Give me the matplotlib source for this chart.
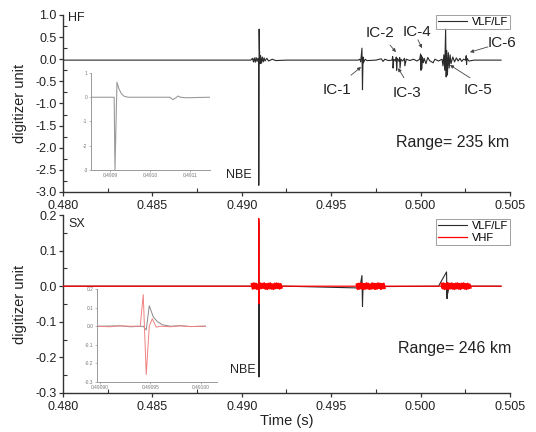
import numpy as np
import matplotlib
matplotlib.use("Agg")
import matplotlib.pyplot as plt
from matplotlib.ticker import MultipleLocator, FormatStrFormatter, FixedLocator

plt.rcParams['font.family'] = ['Liberation Sans', 'DejaVu Sans']

# ---------------- data ----------------
# HF station, VLF/LF sensor (time in s, amplitude in digitizer units)
hf_t = [0.4800, 0.4905, 0.4906, 0.49065, 0.4907, 0.49075, 0.4908, 0.49085, 0.4909, 0.49094,
        0.49095, 0.49097, 0.49099, 0.49102, 0.49105, 0.4911, 0.49115, 0.4912, 0.49125, 0.4913,
        0.4914, 0.4915, 0.4917, 0.4919, 0.4925,
        0.4965, 0.4966, 0.49665, 0.49672, 0.49675, 0.49678, 0.4968, 0.4969, 0.4970, 0.4975,
        0.4978, 0.4979, 0.4980, 0.4982,
        0.4984, 0.49844, 0.49846, 0.4985, 0.4986, 0.49864, 0.49866, 0.4987, 0.4988, 0.49883,
        0.49885, 0.4989, 0.4990, 0.4991, 0.49912, 0.4992, 0.4994, 0.4996, 0.4998,
        0.49995, 0.5000, 0.50002, 0.50004, 0.50006, 0.5001, 0.50015, 0.5002, 0.5003, 0.5004,
        0.5005, 0.5007, 0.5008, 0.5010,
        0.5012, 0.50125, 0.5013, 0.50135, 0.5014, 0.50143, 0.50146, 0.5015, 0.50155, 0.5016,
        0.50165, 0.5017, 0.5018, 0.5019, 0.5020, 0.5021, 0.5022, 0.5023, 0.5024,
        0.50252, 0.50255, 0.50257, 0.5026, 0.5027, 0.5030, 0.5045]
hf_v = [-0.02, -0.02, 0.02, -0.06, 0.03, -0.07, 0.04, -0.05, 0.02, -0.02,
        -2.85, 0.68, 0.20, -0.10, 0.08, -0.09, 0.05, -0.06, 0.03, -0.04,
        0.02, -0.04, 0.00, -0.03, -0.02,
        -0.02, 0.00, -0.06, 0.25, -0.69, 0.05, -0.08, 0.00, -0.03, -0.02,
        0.01, -0.05, 0.00, -0.03,
        -0.02, 0.06, -0.20, 0.00, -0.04, 0.05, -0.25, 0.02, -0.05, 0.04,
        -0.20, 0.00, -0.04, 0.02, -0.15, 0.00, -0.03, 0.00, -0.04,
        0.00, 0.12, -0.25, 0.08, -0.22, 0.05, -0.08, 0.02, -0.10, 0.04,
        -0.03, -0.08, 0.00, -0.04,
        0.00, -0.15, 0.10, -0.25, 0.70, -0.40, 0.20, -0.36, 0.15, -0.20,
        0.10, -0.10, 0.05, -0.06, 0.03, -0.04, 0.02, -0.05, 0.00,
        -0.02, 0.08, -0.12, 0.02, -0.04, -0.02, -0.02]

# HF inset: NBE waveform, expanded
hfi_t = [0.49085, 0.490910, 0.490912, 0.490917, 0.490922, 0.490928, 0.490935, 0.490945,
         0.49105, 0.491057, 0.491064, 0.49107, 0.491076, 0.49109, 0.49115]
hfi_v = [0.0, 0.0, -3.0, 0.62, 0.35, 0.15, 0.04, 0.0,
         0.0, -0.10, -0.03, 0.05, 0.0, -0.02, 0.0]

# SX station, VLF/LF sensor
sx_t = [0.4800, 0.4906, 0.49094, 0.49095, 0.49096, 0.49098, 0.4910, 0.4925, 0.4966,
        0.49672, 0.49675, 0.49678, 0.4969, 0.4980, 0.5010, 0.50145, 0.50148, 0.5015,
        0.50152, 0.5016, 0.5045]
sx_v = [0.0, 0.0, -0.002, 0.18, -0.255, 0.01, 0.0, 0.0, -0.005,
        0.03, -0.057, 0.0, -0.002, -0.001, 0.0, 0.04, -0.035, 0.01,
        -0.02, 0.0, 0.0]

# SX station, VHF sensor: quiet baseline, NBE pulse, and three VHF bursts
vhf_t = [0.4800, 0.49094, 0.49095, 0.49096, 0.49098, 0.5045]
vhf_v = [0.0, 0.0, 0.19, -0.05, 0.0, 0.0]
burst_spans = [(0.49056, 0.49223), (0.49643, 0.49799), (0.50117, 0.50279)]
burst_amps = [
    [0.006, -0.007, 0.008, -0.006, 0.007, -0.008, 0.005, -0.007, 0.008, -0.006,
     0.007, -0.005, 0.008, -0.007, 0.006, -0.008, 0.007, -0.006, 0.008, -0.007,
     0.005, -0.008, 0.007, -0.006, 0.008, -0.005, 0.007, -0.007, 0.006, -0.004],
    [0.005, -0.008, 0.007, -0.007, 0.008, -0.006, 0.007, -0.008, 0.006, -0.007,
     0.008, -0.006, 0.007, -0.008, 0.005, -0.007, 0.008, -0.006, 0.007, -0.008,
     0.006, -0.007, 0.008, -0.005, 0.007, -0.008, 0.006, -0.006, 0.007, -0.005],
    [0.007, -0.006, 0.008, -0.008, 0.006, -0.007, 0.009, -0.008, 0.007, -0.006,
     0.008, -0.007, 0.006, -0.008, 0.007, -0.006, 0.008, -0.007, 0.006, -0.008,
     0.007, -0.005, 0.008, -0.007, 0.006, -0.008, 0.007, -0.006, 0.005, -0.004],
]

# SX inset: NBE waveform, expanded
sxi_t = [0.490897, 0.49092, 0.49093, 0.490943, 0.490946, 0.490949, 0.490953, 0.490957,
         0.490962, 0.49097, 0.49098, 0.49099, 0.491005]
sxi_v = [0.0, 0.002, -0.003, 0.0, -0.02, 0.11, 0.05, 0.025,
         0.008, 0.0, 0.003, -0.002, 0.0]
sxi_vhf_t = [0.490897, 0.49091, 0.49092, 0.49093, 0.49094, 0.490943, 0.490946, 0.490949,
             0.490952, 0.490956, 0.49096, 0.49097, 0.49098, 0.49099, 0.491, 0.491005]
sxi_vhf_v = [0.0, -0.003, 0.002, 0.0, 0.0, 0.17, -0.26, 0.0,
             0.04, -0.005, 0.0, -0.003, 0.002, -0.002, 0.0, 0.0]

# IC pulse labels: (text, text pos, arrow tail, arrow head)
ic_labels = [
    ("IC-1", (0.49532, -0.69), (0.49611, -0.36), (0.49667, -0.175)),
    ("IC-2", (0.49773, 0.59), (0.49829, 0.32), (0.49862, 0.16)),
    ("IC-3", (0.49924, -0.76), (0.49907, -0.42), (0.49874, -0.20)),
    ("IC-4", (0.49980, 0.62), (0.49985, 0.44), (0.50008, 0.25)),
    ("IC-5", (0.50321, -0.69), (0.50276, -0.42), (0.50164, -0.13)),
    ("IC-6", (0.50455, 0.37), (0.50377, 0.28), (0.50276, 0.16)),
]

# ---------------- figure ----------------
fig = plt.figure(figsize=(5.36, 4.32), dpi=100)
trace_col = '#2b2b2b'
axis_col = '#333333'


def style_main(ax):
    for s in ('top', 'right'):
        ax.spines[s].set_visible(False)
    for s in ('left', 'bottom'):
        ax.spines[s].set_color(axis_col)
        ax.spines[s].set_linewidth(1.0)
    ax.set_xlim(0.480, 0.505)
    ax.xaxis.set_major_locator(MultipleLocator(0.005))
    ax.xaxis.set_minor_locator(MultipleLocator(0.0025))
    ax.xaxis.set_major_formatter(FormatStrFormatter('%.3f'))
    ax.tick_params(which='major', direction='out', length=3, width=0.9,
                   labelsize=9, colors=axis_col, labelcolor='#222')
    ax.tick_params(axis='x', which='major', pad=2.5)
    ax.tick_params(axis='y', which='major', pad=1.5)
    ax.tick_params(which='minor', direction='in', length=3, width=0.8, colors=axis_col)
    ax.set_ylabel('digitizer unit', fontsize=10.5, color='#222', labelpad=6)


def style_inset(ax):
    for s in ('top', 'right'):
        ax.spines[s].set_visible(False)
    for s in ('left', 'bottom'):
        ax.spines[s].set_color('#999999')
        ax.spines[s].set_linewidth(0.7)
    ax.tick_params(which='major', direction='out', length=1.5, width=0.5,
                   labelsize=3.5, colors='#999999', labelcolor='#777777', pad=1)
    ax.patch.set_alpha(0)


# ---- HF panel ----
ax1 = fig.add_axes([0.1175, 0.5556, 0.834, 0.4097])
style_main(ax1)
ax1.plot(hf_t, hf_v, color=trace_col, lw=0.8, label='VLF/LF')
ax1.set_ylim(-3.0, 1.0)
ax1.yaxis.set_major_locator(MultipleLocator(0.5))
ax1.yaxis.set_minor_locator(MultipleLocator(0.25))
ax1.yaxis.set_major_formatter(FormatStrFormatter('%.1f'))
ax1.text(0.48028, 0.93, 'HF', fontsize=9, va='center', ha='left', color='#222')
ax1.text(0.48984, -2.62, 'NBE', fontsize=9, va='center', ha='center', color='#222')
ax1.text(0.50176, -1.89, 'Range= 235 km', fontsize=11.5, va='center', ha='center', color='#222')
for lab, tp, tail, head in ic_labels:
    ax1.text(tp[0], tp[1], lab, fontsize=11, ha='center', va='center', color='#222')
    ax1.annotate('', xy=head, xytext=tail,
                 arrowprops=dict(arrowstyle='-|>', color='#444', lw=0.6,
                                 mutation_scale=5, shrinkA=0, shrinkB=0))
leg1 = ax1.legend(loc='upper right', bbox_to_anchor=(1.0, 1.0), fontsize=8,
                  frameon=True, fancybox=False, handlelength=2.6, borderpad=0.2,
                  handletextpad=0.4, borderaxespad=0.0)
leg1.get_frame().set_edgecolor('#888')
leg1.get_frame().set_linewidth(0.7)

ins1 = fig.add_axes([0.1698, 0.6065, 0.222, 0.2245])
style_inset(ins1)
ins1.plot(hfi_t, hfi_v, color='#9a9a9a', lw=0.8)
ins1.set_xlim(0.490852, 0.49115)
ins1.set_ylim(-3, 1)
ins1.xaxis.set_major_locator(FixedLocator([0.4909, 0.4910, 0.4911]))
ins1.xaxis.set_major_formatter(FormatStrFormatter('%.4f'))
ins1.yaxis.set_major_locator(FixedLocator([-3, -2, -1, 0, 1]))
ins1.yaxis.set_major_formatter(FormatStrFormatter('%d'))

# ---- SX panel ----
ax2 = fig.add_axes([0.1175, 0.0903, 0.834, 0.412])
style_main(ax2)
ax2.plot(sx_t, sx_v, color=trace_col, lw=0.8, label='VLF/LF', zorder=2)
ax2.plot(vhf_t, vhf_v, color='#ff0000', lw=0.9, label='VHF', zorder=3)
for (t0, t1), amps in zip(burst_spans, burst_amps):
    bt = np.linspace(t0, t1, len(amps))
    ax2.plot(bt, amps, color='#ff0000', lw=1.6, zorder=3)
ax2.set_ylim(-0.3, 0.2)
ax2.yaxis.set_major_locator(MultipleLocator(0.1))
ax2.yaxis.set_minor_locator(MultipleLocator(0.05))
ax2.yaxis.set_major_formatter(FormatStrFormatter('%.1f'))
ax2.set_xlabel('Time (s)', fontsize=10.5, color='#222', labelpad=1)
ax2.text(0.48028, 0.175, 'SX', fontsize=9, va='center', ha='left', color='#222')
ax2.text(0.49007, -0.235, 'NBE', fontsize=9, va='center', ha='center', color='#222')
ax2.text(0.50193, -0.175, 'Range= 246 km', fontsize=11.5, va='center', ha='center', color='#222')
leg2 = ax2.legend(loc='upper right', bbox_to_anchor=(1.0, 0.98), fontsize=8,
                  frameon=True, fancybox=False, handlelength=2.6, borderpad=0.2,
                  handletextpad=0.4, borderaxespad=0.0, labelspacing=0.2)
leg2.get_frame().set_edgecolor('#888')
leg2.get_frame().set_linewidth(0.7)

ins2 = fig.add_axes([0.181, 0.1157, 0.224, 0.2153])
style_inset(ins2)
ins2.plot(sxi_t, sxi_v, color='#8a8a8a', lw=0.7)
ins2.plot(sxi_vhf_t, sxi_vhf_v, color='#f08080', lw=0.7)
ins2.set_xlim(0.490897, 0.4910165)
ins2.set_ylim(-0.3, 0.2)
ins2.xaxis.set_major_locator(FixedLocator([0.49090, 0.49095, 0.49100]))
ins2.xaxis.set_major_formatter(FormatStrFormatter('%.5f'))
ins2.yaxis.set_major_locator(FixedLocator([-0.3, -0.2, -0.1, 0.0, 0.1, 0.2]))
ins2.yaxis.set_major_formatter(FormatStrFormatter('%.1f'))

fig.savefig('out.png', dpi=100)
